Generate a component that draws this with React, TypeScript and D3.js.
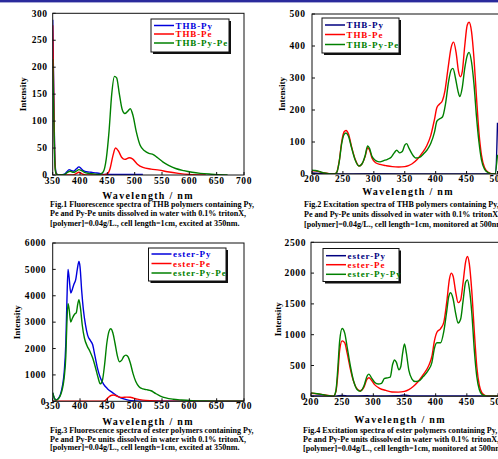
import React from 'react';
import * as d3 from 'd3';

const width = 498;
const height = 459;
const font = "'Liberation Serif', 'Times New Roman', serif";

type Pt = [number, number];

// Fig.1 THB fluorescence (excited at 350nm)
const thbPyEm: Pt[] = [[350,288],[352,150],[354,30],[356,5],[360,0],[370,1],[376,6],[380,10],[384,8],[388,7],[393,11],[398,15],[402,12],[406,8],[412,6],[420,5],[428,4],[436,3],[445,1],[460,1],[480,1],[500,1],[515,1]];
const thbPeEm: Pt[] = [[350,278],[352,140],[354,25],[356,3],[360,0],[385,0],[392,2],[398,5],[404,2],[410,0],[440,0],[450,2],[455,12],[460,35],[465,50],[470,45],[476,33],[482,29],[490,32],[496,30],[505,20],[515,14],[530,11],[545,9],[560,6],[580,3],[600,1],[630,0]];
const thbPyPeEm: Pt[] = [[350,215],[352,110],[354,20],[356,3],[360,0],[372,1],[377,5],[382,7],[388,5],[393,7],[398,10],[403,8],[408,5],[415,3],[425,2],[435,1],[442,5],[448,30],[453,80],[458,150],[463,183],[467,180],[472,150],[477,122],[482,114],[487,118],[492,123],[497,110],[503,80],[510,55],[518,45],[526,40],[534,38],[542,32],[552,24],[562,18],[575,12],[590,8],[605,5],[620,3],[640,1.5],[670,0]];

// Fig.2 THB excitation (monitored at 500nm)
const thbPyEx: Pt[] = [[200,3],[220,1],[240,0],[300,1],[400,0],[480,0],[497,1],[500,160]];
const thbPeEx: Pt[] = [[200,10],[205,10],[210,8],[215,5],[220,3],[228,1],[236,0],[240,5],[244,40],[248,100],[252,132],[255,136],[259,125],[264,85],[270,45],[276,25],[281,32],[286,55],[290,82],[293,75],[297,50],[303,35],[310,30],[320,26],[330,23],[340,22],[350,23],[356,26],[362,32],[370,45],[378,65],[386,90],[392,120],[398,170],[402,208],[406,218],[411,230],[415,260],[420,330],[425,395],[429,412],[433,380],[437,320],[440,304],[443,320],[447,400],[451,465],[454,474],[458,445],[462,360],[466,240],[470,130],[474,60],[479,20],[485,5],[492,0],[497,0]];
const thbPyPeEx: Pt[] = [[200,12],[205,11],[210,9],[215,6],[220,3],[228,1],[236,0],[240,5],[244,38],[248,95],[252,124],[255,128],[259,118],[264,82],[270,43],[276,25],[281,32],[286,58],[290,88],[293,80],[297,55],[303,42],[310,38],[316,42],[322,46],[328,52],[333,66],[337,74],[342,66],[346,70],[350,90],[353,95],[357,80],[362,62],[368,50],[374,52],[380,62],[386,75],[392,95],[398,130],[402,165],[406,172],[411,178],[416,220],[421,290],[425,325],[428,330],[432,300],[436,260],[439,242],[443,270],[447,330],[451,370],[454,380],[458,350],[462,280],[466,180],[470,100],[474,45],[479,15],[485,4],[492,0],[496,0],[500,60]];

// Fig.3 ester fluorescence (excited at 350nm)
const esterPyEm: Pt[] = [[350,320],[353,120],[356,50],[360,100],[364,250],[368,600],[371,1100],[374,2200],[376,3800],[378,5000],[380,4700],[383,4100],[386,4250],[389,4450],[392,4600],[395,5000],[398,5300],[400,5100],[403,4200],[406,3500],[410,2900],[414,2500],[419,2300],[423,2150],[427,1750],[432,1250],[437,900],[443,650],[450,480],[460,320],[470,180],[480,90],[490,35],[500,12],[520,0],[700,0]];
const esterPeEm: Pt[] = [[350,0],[440,0],[446,30],[452,150],[458,230],[462,240],[467,200],[472,160],[478,150],[485,160],[492,155],[498,120],[505,80],[515,45],[530,20],[550,5],[580,0],[700,0]];
const esterPyPeEm: Pt[] = [[350,330],[353,120],[356,50],[360,90],[364,220],[368,500],[371,900],[374,1700],[376,3000],[378,3700],[380,3500],[383,3000],[386,3150],[390,3300],[393,3350],[396,3700],[398,3850],[401,3500],[404,2900],[408,2400],[413,2100],[418,1900],[423,1650],[428,1300],[433,900],[437,660],[441,800],[445,1400],[449,2200],[453,2650],[456,2750],[460,2600],[464,2200],[468,1750],[472,1500],[476,1550],[480,1700],[484,1750],[488,1680],[492,1450],[497,1050],[502,750],[508,550],[515,470],[522,440],[530,400],[538,300],[547,200],[557,130],[570,80],[585,50],[605,25],[630,12],[660,5],[700,2]];

// Fig.4 ester excitation (monitored at 500nm)
const esterPyEx: Pt[] = [[200,5],[240,2],[250,15],[260,5],[290,10],[300,5],[340,10],[350,20],[360,5],[400,5],[450,5],[500,5]];
const esterPeEx: Pt[] = [[200,50],[210,40],[220,25],[230,8],[236,0],[240,80],[243,350],[246,750],[250,900],[254,870],[258,700],[263,450],[268,250],[274,120],[279,90],[285,150],[290,280],[293,300],[297,260],[302,190],[310,130],[320,95],[330,70],[340,68],[350,80],[357,110],[364,160],[372,240],[380,350],[388,480],[394,650],[398,900],[402,1040],[408,1100],[413,1200],[418,1550],[422,1900],[425,2000],[428,1950],[432,1700],[436,1520],[440,1560],[444,1850],[448,2180],[451,2270],[454,2150],[458,1700],[462,1050],[466,480],[470,180],[474,60],[479,15],[485,0],[500,0]];
const esterPyPyEx: Pt[] = [[200,55],[210,42],[220,25],[230,8],[236,0],[240,90],[243,450],[246,900],[250,1100],[254,1030],[258,800],[263,500],[268,260],[274,110],[279,80],[285,170],[290,330],[293,360],[297,300],[302,230],[308,200],[313,210],[318,290],[323,300],[327,310],[331,520],[334,590],[337,550],[341,430],[344,480],[347,700],[350,850],[353,700],[357,420],[362,280],[367,240],[373,250],[380,320],[388,420],[394,550],[398,780],[402,870],[408,870],[413,1050],[418,1400],[421,1620],[424,1680],[428,1580],[432,1350],[436,1190],[440,1250],[444,1550],[448,1850],[451,1890],[454,1750],[458,1350],[462,750],[466,320],[470,110],[474,35],[479,10],[485,0],[500,0]];

const emTicksX = [350, 400, 450, 500, 550, 600, 650, 700];
const exTicksX = [200, 250, 300, 350, 400, 450, 500];
const fig1TicksY = [0, 50, 100, 150, 200, 250, 300];
const fig2TicksY = [0, 100, 200, 300, 400, 500];
const fig3TicksY = [0, 1000, 2000, 3000, 4000, 5000, 6000];
const fig4TicksY = [0, 500, 1000, 1500, 2000, 2500];

const thbNames = ['THB-Py', 'THB-Pe', 'THB-Py-Pe'];
const esterEmNames = ['ester-Py', 'ester-Pe', 'ester-Py-Pe'];
const esterExNames = ['ester-Py', 'ester-Pe', 'ester-Py-Py'];

const caption1 = ['Fig.1 Fluorescence spectra of THB polymers containing Py,', 'Pe and Py-Pe units dissolved in water with 0.1% tritonX,', '[polymer]=0.04g/L., cell length=1cm, excited at 350nm.'];
const caption2 = ['Fig.2 Excitation spectra of THB polymers containing Py,', 'Pe and Py-Pe units dissolved in water with 0.1% tritonX,', '[polymer]=0.04g/L., cell length=1cm, monitored at 500nm.'];
const caption3 = ['Fig.3 Fluorescence spectra of ester polymers containing Py,', 'Pe and Py-Pe units dissolved in water with 0.1% tritonX,', '[polymer]=0.04g/L., cell length=1cm, excited at 350nm.'];
const caption4 = ['Fig.4 Excitation spectra of ester polymers containing Py,', 'Pe and Py-Pe units dissolved in water with 0.1% tritonX,', '[polymer]=0.04g/L., cell length=1cm, monitored at 500nm.'];

type PanelProps = {
  box: { l: number; r: number; t: number; b: number; frameR?: number };
  xDomain: [number, number];
  yDomain: [number, number];
  xTicks: number[];
  yTicks: number[];
  series: Pt[][];
  colors: string[];
  names: string[];
  legend: { x: number; y: number; w: number; h: number; rows: number[] };
  yGap: number;
  xLabelY: number;
  titleX: number;
  titleY: number;
  intensityX: number;
  captionX: number;
  captionY: number[];
  caption: string[];
};

const Panel = (p: PanelProps) => {
  const x = d3.scaleLinear().domain(p.xDomain).range([p.box.l, p.box.r]);
  const y = d3.scaleLinear().domain(p.yDomain).range([p.box.b, p.box.t]);
  const line = d3.line<Pt>()
    .x(d => x(d[0]))
    .y(d => y(d[1]))
    .curve(d3.curveMonotoneX);
  const fr = p.box.frameR ?? p.box.r;
  const clipId = `clip-${p.box.l}-${p.box.t}`;
  const lg = p.legend;
  return (
    <g>
      <clipPath id={clipId}>
        <rect x={p.box.l} y={p.box.t - 20} width={fr - p.box.l} height={p.box.b - p.box.t + 20} />
      </clipPath>
      <g clipPath={`url(#${clipId})`}>
        {p.series.map((s, i) => (
          <path key={i} d={line(s) ?? ''} fill="none" stroke={p.colors[i]} strokeWidth={1.4} />
        ))}
      </g>
      <rect x={p.box.l} y={p.box.t} width={fr - p.box.l} height={p.box.b - p.box.t}
        fill="none" stroke="#111" strokeWidth={1} />
      {p.xTicks.map(t => (
        <g key={t}>
          <line x1={x(t)} x2={x(t)} y1={p.box.b} y2={p.box.b - 3} stroke="#111" />
          <text x={x(t)} y={p.xLabelY} textAnchor="middle" fontSize={9.5} fontWeight="bold"
            fontFamily={font} letterSpacing={0.6}>{t}</text>
        </g>
      ))}
      {p.yTicks.map(t => (
        <g key={t}>
          <line x1={p.box.l} x2={p.box.l + 3} y1={y(t)} y2={y(t)} stroke="#111" />
          <text x={p.box.l - p.yGap} y={y(t) + 3.2} textAnchor="end" fontSize={9.5} fontWeight="bold"
            fontFamily={font} letterSpacing={0.6}>{t}</text>
        </g>
      ))}
      <text x={p.titleX} y={p.titleY} textAnchor="middle" fontSize={10} fontWeight="bold"
        fontFamily={font} letterSpacing={1.3}>Wavelength / nm</text>
      <text transform={`translate(${p.intensityX},${(p.box.t + p.box.b) / 2}) rotate(-90)`}
        textAnchor="middle" fontSize={9} fontWeight="bold" fontFamily={font}>Intensity</text>
      <rect x={lg.x + 2} y={lg.y + 2} width={lg.w} height={lg.h} fill="#111" />
      <rect x={lg.x} y={lg.y} width={lg.w} height={lg.h} fill="#fff" stroke="#111" strokeWidth={1} />
      {p.names.map((n, i) => (
        <g key={n}>
          <line x1={lg.x + 3} x2={lg.x + 23} y1={lg.rows[i]} y2={lg.rows[i]} stroke={p.colors[i]} strokeWidth={1.5} />
          <text x={lg.x + 24.5} y={lg.rows[i] + 3} fontSize={9} fontWeight="bold" fontFamily={font}
            letterSpacing={0.9} fill={p.colors[i]}>{n}</text>
        </g>
      ))}
      {p.caption.map((c, i) => (
        <text key={i} x={p.captionX} y={p.captionY[i]} fontSize={8.1} fontWeight="bold" fontFamily={font}>{c}</text>
      ))}
    </g>
  );
};

const emColors = ['#0000dd', '#ff0000', '#008000'];
const exColors = ['#000080', '#ff0000', '#008000'];

const App = () => {
  return (
    <svg width={width} height={height} style={{ position: 'absolute', left: 0, top: 0, background: '#fff' }}>
      <rect x={0} y={0} width={width} height={2.4} fill="#2a2a9c" />
      <Panel
        box={{ l: 52.7, r: 244, t: 13.3, b: 175 }}
        xDomain={[350, 700]} yDomain={[0, 300]}
        xTicks={emTicksX} yTicks={fig1TicksY}
        series={[thbPyEm, thbPeEm, thbPyPeEm]} colors={emColors} names={thbNames}
        legend={{ x: 151, y: 19, w: 78, h: 33, rows: [25.5, 34, 43] }}
        yGap={5} xLabelY={184} titleX={148} titleY={199} intensityX={26}
        captionX={50} captionY={[207, 216, 226]} caption={caption1}
      />
      <Panel
        box={{ l: 312, r: 497.5, t: 14, b: 174, frameR: 500 }}
        xDomain={[200, 500]} yDomain={[0, 500]}
        xTicks={exTicksX} yTicks={fig2TicksY}
        series={[thbPyEx, thbPeEx, thbPyPeEx]} colors={exColors} names={thbNames}
        legend={{ x: 322, y: 18, w: 77, h: 35, rows: [25, 34.5, 44.5] }}
        yGap={6.5} xLabelY={182} titleX={408} titleY={195} intensityX={284.5}
        captionX={304} captionY={[207, 216.5, 226.5]} caption={caption2}
      />
      <Panel
        box={{ l: 52.7, r: 244, t: 243, b: 401.3 }}
        xDomain={[350, 700]} yDomain={[0, 6000]}
        xTicks={emTicksX} yTicks={fig3TicksY}
        series={[esterPyEm, esterPeEm, esterPyPeEm]} colors={emColors} names={esterEmNames}
        legend={{ x: 148.5, y: 248, w: 77.5, h: 33, rows: [254, 263.5, 273] }}
        yGap={6.5} xLabelY={409} titleX={148} titleY={425} intensityX={20}
        captionX={50} captionY={[432.5, 441.5, 450]} caption={caption3}
      />
      <Panel
        box={{ l: 311, r: 498, t: 242.3, b: 396.3, frameR: 500 }}
        xDomain={[200, 500]} yDomain={[0, 2500]}
        xTicks={exTicksX} yTicks={fig4TicksY}
        series={[esterPyEx, esterPeEx, esterPyPyEx]} colors={exColors} names={esterExNames}
        legend={{ x: 323, y: 248.5, w: 76, h: 33, rows: [255.7, 264.7, 274.3] }}
        yGap={5} xLabelY={405} titleX={400} titleY={422.5} intensityX={281}
        captionX={303} captionY={[433, 441.5, 450.5]} caption={caption4}
      />
    </svg>
  );
};

export default App;
